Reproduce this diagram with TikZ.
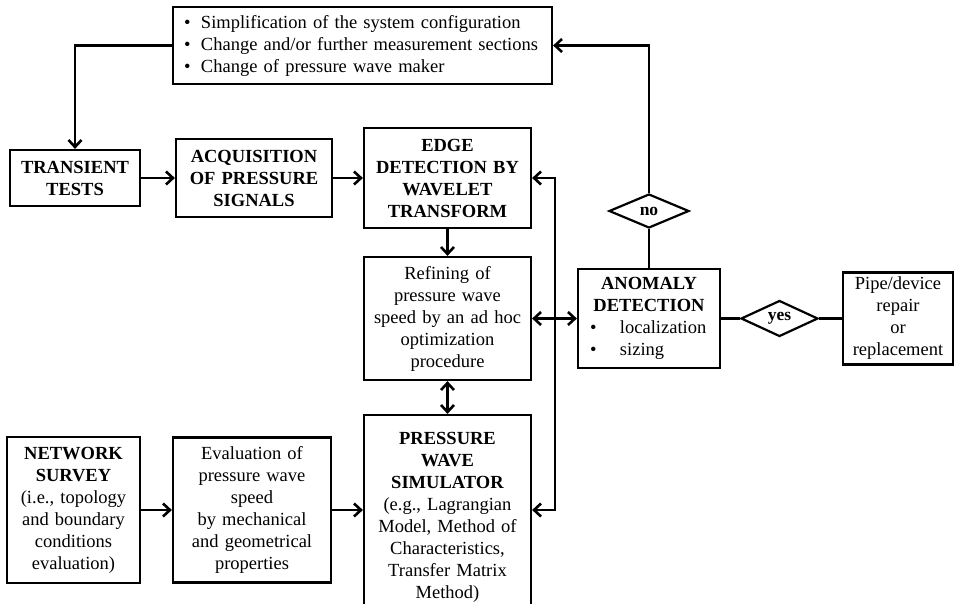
\documentclass[tikz,border=0pt]{standalone}
\usepackage{fontspec}
\setmainfont{Liberation Serif}
\usetikzlibrary{arrows.meta,shapes.geometric,calc}

\newcommand{\bul}{\makebox[17pt][l]{\textbullet}}
\newcommand{\anbul}[1]{\makebox[118pt][l]{\makebox[30pt][l]{\textbullet}#1}}

\begin{document}
\begin{tikzpicture}[x=1pt,y=-1pt,
    box/.style={draw, line width=2.2pt, align=center, inner sep=2pt,
        font=\fontsize{18.5pt}{22pt}\selectfont},
    decision/.style={draw, diamond, line width=2.2pt, inner sep=0pt,
        aspect=2.3, font=\fontsize{17.5pt}{18pt}\selectfont\bfseries},
    link/.style={line width=2.6pt, -{Straight Barb[length=7pt,width=13pt]}},
    dlink/.style={line width=2.6pt, {Straight Barb[length=7pt,width=13pt]}-{Straight Barb[length=7pt,width=13pt]}},
    plain/.style={line width=2.6pt}]
    \useasboundingbox (0,0) rectangle (954,603);
    \fill[white] (0,0) rectangle (954,603);

    % Corrective actions
    \node[box, align=left, inner xsep=11pt, text width=357pt, minimum height=77pt]
        (tops) at (362.5,45.5) {\bul Simplification of the system configuration\\
        \bul Change and/or further measurement sections\\
        \bul Change of pressure wave maker};

    % Upper row
    \node[box, text width=126pt, minimum height=56pt] (trans) at (75,178)
        {\textbf{TRANSIENT}\\\textbf{TESTS}};
    \node[box, text width=152pt, minimum height=78pt] (acq) at (254,178)
        {\textbf{ACQUISITION}\\\textbf{OF PRESSURE}\\\textbf{SIGNALS}};
    \node[box, text width=163pt, minimum height=100pt] (edge) at (447.5,178)
        {\textbf{EDGE}\\\textbf{DETECTION BY}\\\textbf{WAVELET}\\\textbf{TRANSFORM}};

    % Middle column
    \node[box, text width=163pt, minimum height=123pt] (refine) at (447.5,318.5)
        {Refining of\\pressure wave\\speed by an ad hoc\\optimization\\procedure};
    \node[box, text width=163pt, minimum height=204pt] (sim) at (447.5,517)
        {\textbf{PRESSURE}\\\textbf{WAVE}\\\textbf{SIMULATOR}\\(e.g., Lagrangian\\Model, Method of\\Characteristics,\\Transfer Matrix\\Method)};

    % Lower row
    \node[box, text width=129pt, minimum height=146pt] (net) at (73.5,510)
        {\textbf{NETWORK}\\\textbf{SURVEY}\\(i.e., topology\\and boundary\\conditions\\evaluation)};
    \node[box, text width=154pt, minimum height=145pt] (eval) at (252,510)
        {Evaluation of\\pressure wave\\speed\\by mechanical\\and geometrical\\properties};

    % Detection and decisions
    \node[box, text width=138pt, minimum height=99pt] (anom) at (649,318.5)
        {\textbf{ANOMALY}\\\textbf{DETECTION}\\\anbul{localization}\\\anbul{sizing}};
    \node[decision, minimum width=80pt, minimum height=34pt] (no) at (649,211) {no};
    \node[decision, minimum width=77pt, minimum height=36pt] (yes) at (779.5,318.5) {yes};
    \node[box, text width=106pt, minimum height=92pt] (pipe) at (898,318.5)
        {Pipe/device\\repair\\or\\replacement};

    % Connectors
    \draw[link] (tops.west) -| (trans.north);
    \draw[link] (trans.east) -- (acq.west);
    \draw[link] (acq.east) -- (edge.west);
    \draw[link] (edge.south) -- (refine.north);
    \draw[dlink] (refine.south) -- (sim.north);
    \draw[dlink] (refine.east) -- (anom.west);
    \draw[dlink] (edge.east) -- ++(23,0) |- (eval.east -| sim.east);
    \draw[link] (net.east) -- (eval.west);
    \draw[link] (eval.east) -- (eval.east -| sim.west);
    \draw[plain] (anom.north) -- (no.south);
    \draw[link] (no.north) |- (tops.east);
    \draw[plain] (anom.east) -- (yes.west);
    \draw[plain] (yes.east) -- (pipe.west);
\end{tikzpicture}
\end{document}
